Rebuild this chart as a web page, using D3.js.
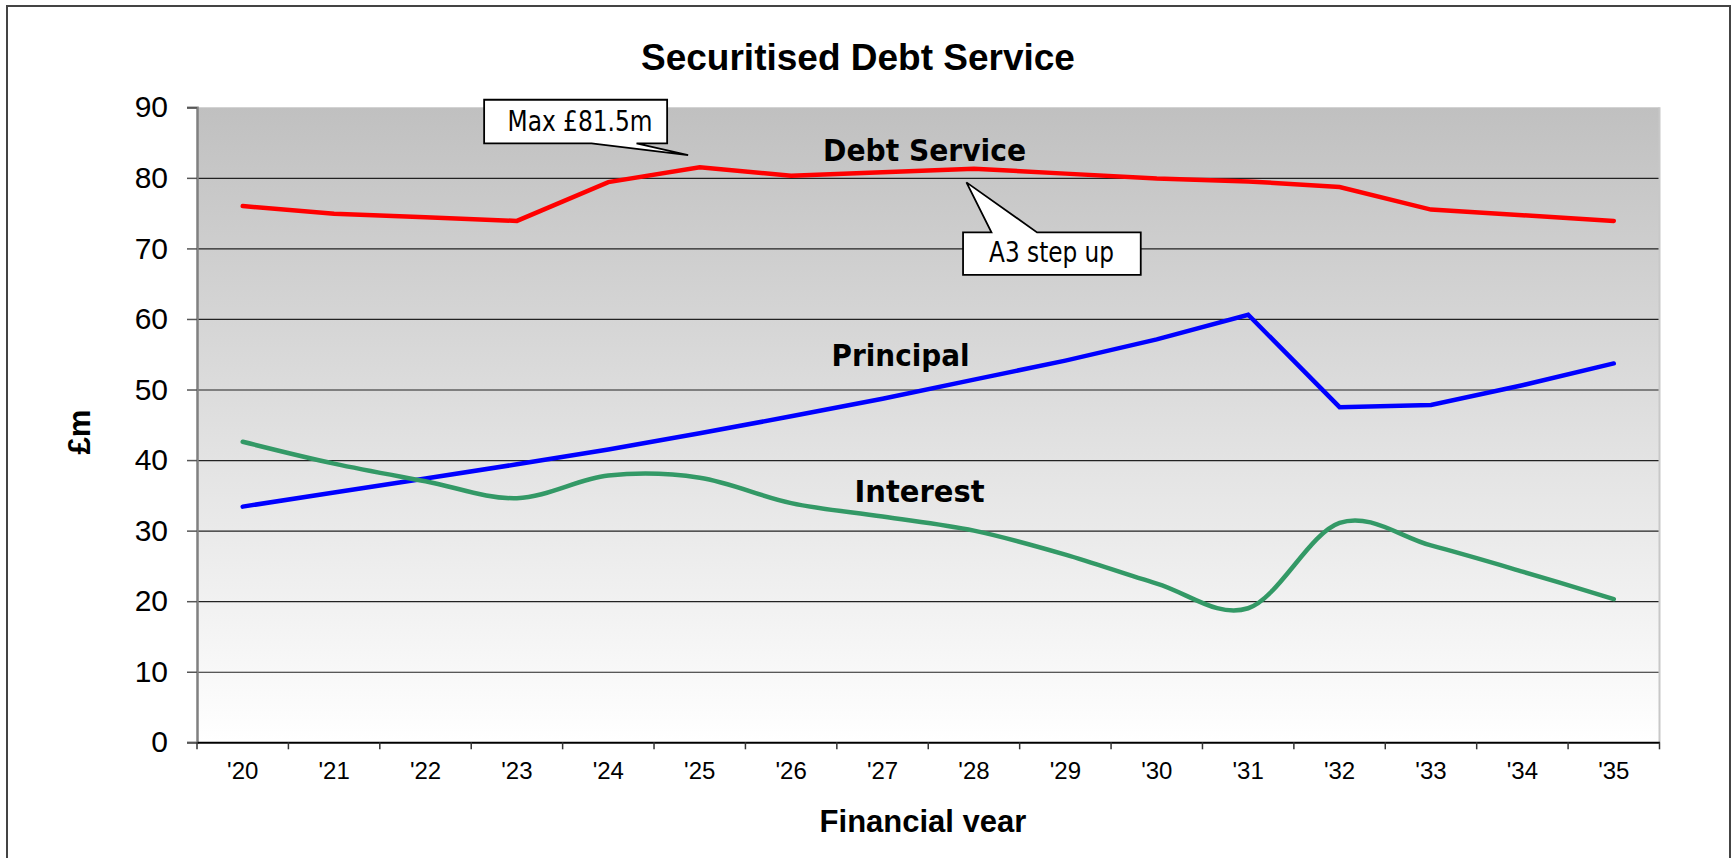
<!DOCTYPE html>
<html>
<head>
<meta charset="utf-8">
<script src="https://cdn.jsdelivr.net/npm/d3@7"></script>
<style>
  body { margin: 0; background: #fff; }
  svg { display: block; }
</style>
</head>
<body>
<div id="chart"></div>
<script>
var years = ["'20", "'21", "'22", "'23", "'24", "'25", "'26", "'27", "'28", "'29", "'30", "'31", "'32", "'33", "'34", "'35"]
var debtService = [76.0, 74.9, 74.4, 73.9, 79.4, 81.5, 80.3, 80.8, 81.3, 80.6, 79.9, 79.5, 78.7, 75.5, 74.7, 73.9]
var principal = [33.4, 35.4, 37.4, 39.4, 41.5, 43.8, 46.2, 48.7, 51.4, 54.1, 57.1, 60.6, 47.5, 47.8, 50.6, 53.7]
var interest = [42.6, 39.5, 37.0, 34.6, 37.8, 37.5, 33.9, 32.0, 30.0, 26.6, 22.5, 19.0, 31.1, 27.9, 24.2, 20.3]
var yTicks = [0, 10, 20, 30, 40, 50, 60, 70, 80, 90]

function chart() {
    var width = 1733
    var height = 858

    var svg = d3.select("#chart")
        .append("svg")
        .attr("width", width)
        .attr("height", height)

    var x = d3.scaleBand().domain(years).range([197, 1659.5])
    var y = d3.scaleLinear().domain([0, 90]).range([742.3, 107.3])
    var bw = x.bandwidth()
    var cx = d => x(d) + bw / 2

    // plot background gradient
    var grad = svg.append("defs").append("linearGradient")
        .attr("id", "bg")
        .attr("x1", 0).attr("y1", 0).attr("x2", 0).attr("y2", 1)
    grad.append("stop").attr("offset", "0%").attr("stop-color", "#c0c0c0")
    grad.append("stop").attr("offset", "100%").attr("stop-color", "#ffffff")

    svg.select("defs").append("clipPath").attr("id", "cut")
        .append("rect").attr("x", 0).attr("y", 0).attr("width", width).attr("height", 832)

    // outer chart frame (bottom is cropped off)
    svg.append("path")
        .attr("d", "M7,870V6H1730V870")
        .attr("fill", "none")
        .attr("stroke", "#444")
        .attr("stroke-width", 2)

    svg.append("rect")
        .attr("x", x.range()[0])
        .attr("y", y(90))
        .attr("width", x.range()[1] - x.range()[0])
        .attr("height", y(0) - y(90))
        .attr("fill", "url(#bg)")

    // gridlines
    svg.append("g")
        .selectAll("line")
        .data(yTicks.filter(d => d > 0 && d < 90))
        .join("line")
        .attr("x1", x.range()[0])
        .attr("x2", x.range()[1])
        .attr("y1", d => y(d) + 0.5)
        .attr("y2", d => y(d) + 0.5)
        .attr("stroke", "#222")
        .attr("stroke-width", 1.2)

    // right plot border
    svg.append("line")
        .attr("x1", x.range()[1]).attr("x2", x.range()[1])
        .attr("y1", y(90)).attr("y2", y(0))
        .attr("stroke", "#c8c8c8").attr("stroke-width", 2)

    // y axis
    var yAxis = svg.append("g")
        .attr("transform", "translate(197,0)")
        .call(d3.axisLeft(y).tickValues(yTicks).tickSize(10).tickPadding(19))
    yAxis.select(".domain").attr("stroke", "#808080").attr("stroke-width", 2.5)
    yAxis.selectAll(".tick line").attr("stroke", "#555").attr("stroke-width", 1.5)
    yAxis.selectAll("text")
        .attr("font-family", "'Liberation Sans', Arial, sans-serif")
        .attr("font-size", 30)
        .attr("fill", "#000")

    // x axis labels
    var xAxis = svg.append("g")
        .attr("transform", "translate(0," + y(0) + ")")
        .call(d3.axisBottom(x).tickSize(0).tickPadding(20))
    xAxis.select(".domain").attr("stroke", "#000").attr("stroke-width", 2)
    xAxis.selectAll("text")
        .attr("font-family", "'Liberation Sans', Arial, sans-serif")
        .attr("font-size", 24)
        .attr("fill", "#000")

    // x ticks at band edges
    svg.append("g")
        .selectAll("line")
        .data(years.map(d => x(d)).concat([x.range()[1]]))
        .join("line")
        .attr("x1", d => d).attr("x2", d => d)
        .attr("y1", y(0)).attr("y2", y(0) + 7)
        .attr("stroke", "#333")
        .attr("stroke-width", 1.5)

    // series
    var series = [
        { name: "Debt Service", values: debtService, color: "#ff0000", curve: d3.curveLinear },
        { name: "Principal", values: principal, color: "#0000ff", curve: d3.curveLinear },
        { name: "Interest", values: interest, color: "#339966", curve: d3.curveCatmullRom.alpha(0) }
    ]

    series.forEach(s => {
        var line = d3.line()
            .x((d, i) => cx(years[i]))
            .y(d => y(d))
            .curve(s.curve)
        svg.append("path")
            .datum(s.values)
            .attr("d", line)
            .attr("fill", "none")
            .attr("stroke", s.color)
            .attr("stroke-width", 4.5)
            .attr("stroke-linecap", "round")
    })

    // series labels
    var labelFont = "'DejaVu Sans Condensed', 'DejaVu Sans', Verdana, sans-serif"
    var labels = [
        { text: "Debt Service", year: "'27", dx: 42, val: 82.4, w: 203 },
        { text: "Principal", year: "'27", dx: 18, val: 53.4, w: 138 },
        { text: "Interest", year: "'27", dx: 37, val: 34.1, w: 130 }
    ]
    svg.append("g")
        .selectAll("text")
        .data(labels)
        .join("text")
        .attr("x", d => cx(d.year) + d.dx)
        .attr("y", d => y(d.val))
        .attr("text-anchor", "middle")
        .attr("font-family", labelFont)
        .attr("font-weight", "bold")
        .attr("font-size", 31)
        .attr("textLength", d => d.w)
        .attr("lengthAdjust", "spacingAndGlyphs")
        .text(d => d.text)

    // callouts, placed relative to the data point they mark
    var callouts = [
        { text: "Max £81.5m", year: "'25", val: 81.5, box: [-215.6, -32.6, -67.5, -23.9], wedge: [-108.2, -63.2], tip: [-11.6, -12.2], tx: -119.7, ty: -35.9, w: 145 },
        { text: "A3 step up", year: "'28", val: 81.3, box: [-10.9, 166.8, 63.7, 106.1], wedge: [17.5, 63.1], tip: [-7.5, 13.7], tx: 77.6, ty: 93.7, w: 125 }
    ]
    callouts.forEach(c => {
        var px = cx(c.year)
        var py = y(c.val)
        var l = px + c.box[0], r = px + c.box[1], t = py + c.box[2], b = py + c.box[3]
        var w0 = px + c.wedge[0], w1 = px + c.wedge[1]
        var tx = px + c.tip[0], ty = py + c.tip[1]
        var p = d3.path()
        if (c.tip[1] < 0) {
            // wedge from bottom edge
            p.moveTo(l, t); p.lineTo(r, t); p.lineTo(r, b); p.lineTo(w1, b)
            p.lineTo(tx, ty); p.lineTo(w0, b); p.lineTo(l, b); p.closePath()
        } else {
            // wedge from top edge
            p.moveTo(l, t); p.lineTo(w0, t); p.lineTo(tx, ty); p.lineTo(w1, t)
            p.lineTo(r, t); p.lineTo(r, b); p.lineTo(l, b); p.closePath()
        }
        svg.append("path")
            .attr("d", p.toString())
            .attr("fill", "#fff")
            .attr("stroke", "#000")
            .attr("stroke-width", 1.8)
            .attr("stroke-linejoin", "miter")
        svg.append("text")
            .attr("x", px + c.tx)
            .attr("y", py + c.ty)
            .attr("text-anchor", "middle")
            .attr("font-family", labelFont)
            .attr("font-size", 28)
            .attr("textLength", c.w)
            .attr("lengthAdjust", "spacingAndGlyphs")
            .text(c.text)
    })

    // titles
    svg.append("text")
        .attr("x", 858)
        .attr("y", 70)
        .attr("text-anchor", "middle")
        .attr("font-family", "'Liberation Sans', Arial, sans-serif")
        .attr("font-weight", "bold")
        .attr("font-size", 37)
        .text("Securitised Debt Service")

    svg.append("text")
        .attr("x", 923)
        .attr("y", 831.5)
        .attr("text-anchor", "middle")
        .attr("clip-path", "url(#cut)")
        .attr("font-family", "'Liberation Sans', Arial, sans-serif")
        .attr("font-weight", "bold")
        .attr("font-size", 31)
        .text("Financial year")

    svg.append("text")
        .attr("transform", "translate(90,432) rotate(-90)")
        .attr("text-anchor", "middle")
        .attr("font-family", "'Liberation Sans', Arial, sans-serif")
        .attr("font-weight", "bold")
        .attr("font-size", 31)
        .text("£m")
}
chart()
</script>
</body>
</html>
